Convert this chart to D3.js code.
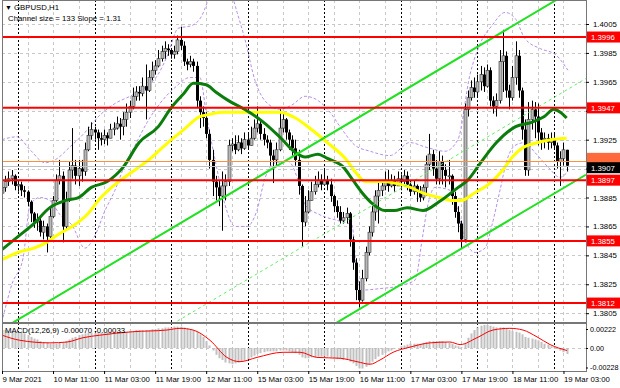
<!DOCTYPE html>
<html>
<head>
<meta charset="utf-8">
<script src="https://cdn.jsdelivr.net/npm/d3@7"></script>
<style>
html, body { margin: 0; padding: 0; background: #fff; }
svg { display: block; font-family: "Liberation Sans", Arial, sans-serif; }
</style>
</head>
<body>
<div class="artboard"></div>
<script>
// GBPUSD H1, 9 Mar 19:00 .. 19 Mar 04:00 (178 bars), open of a bar = close of the previous one
var firstOpen = 1.3888;
var closes = [
  1.3892, 1.3896, 1.3898, 1.3900, 1.3893, 1.3894, 1.3890, 1.3889, 1.3882, 1.3874,
  1.3868, 1.3869, 1.3861, 1.3865, 1.3858, 1.3872, 1.3883, 1.3897, 1.3900, 1.3865,
  1.3883, 1.3904, 1.3907, 1.3900, 1.3905, 1.3903, 1.3918, 1.3928, 1.3932, 1.3930,
  1.3926, 1.3925, 1.3928, 1.3926, 1.3932, 1.3933, 1.3936, 1.3934, 1.3939, 1.3944,
  1.3948, 1.3955, 1.3958, 1.3957, 1.3962, 1.3959, 1.3968, 1.3973, 1.3976, 1.3981,
  1.3986, 1.3988, 1.3987, 1.3984, 1.3986, 1.3994, 1.3990, 1.3979, 1.3977, 1.3979,
  1.3976, 1.3952, 1.3944, 1.3940, 1.3929, 1.3911, 1.3896, 1.3892, 1.3886, 1.3893,
  1.3896, 1.3921, 1.3922, 1.3918, 1.3923, 1.3919, 1.3925, 1.3921, 1.3926, 1.3933,
  1.3936, 1.3929, 1.3925, 1.3923, 1.3914, 1.3911, 1.3918, 1.3933, 1.3939, 1.3930,
  1.3925, 1.3919, 1.3911, 1.3893, 1.3868, 1.3875, 1.3883, 1.3889, 1.3894, 1.3897,
  1.3894, 1.3897, 1.3894, 1.3886, 1.3879, 1.3875, 1.3869, 1.3871, 1.3874, 1.3856,
  1.3840, 1.3821, 1.3814, 1.3829, 1.3847, 1.3861, 1.3875, 1.3886, 1.3890, 1.3893,
  1.3896, 1.3893, 1.3897, 1.3893, 1.3898, 1.3896, 1.3900, 1.3894, 1.3889, 1.3893,
  1.3889, 1.3885, 1.3892, 1.3908, 1.3915, 1.3905, 1.3898, 1.3910, 1.3904, 1.3900,
  1.3900, 1.3886, 1.3875, 1.3867, 1.3856, 1.3946, 1.3954, 1.3961, 1.3958, 1.3965,
  1.3970, 1.3962, 1.3973, 1.3952, 1.3948, 1.3952, 1.3979, 1.3983, 1.3959, 1.3954,
  1.3968, 1.3983, 1.3959, 1.3932, 1.3904, 1.3939, 1.3946, 1.3941, 1.3930, 1.3925,
  1.3926, 1.3923, 1.3925, 1.3921, 1.3910, 1.3912, 1.3918, 1.3907
];
var highs = [
  1.3898, 1.3900, 1.3903, 1.3904, 1.3901, 1.3897, 1.3896, 1.3893, 1.3890, 1.3883,
  1.3875, 1.3874, 1.3871, 1.3869, 1.3867, 1.3878, 1.3886, 1.3901, 1.3911, 1.3903,
  1.3889, 1.3910, 1.3933, 1.3911, 1.3911, 1.3911, 1.3923, 1.3934, 1.3937, 1.3934,
  1.3932, 1.3930, 1.3932, 1.3930, 1.3936, 1.3937, 1.3941, 1.3940, 1.3944, 1.3950,
  1.3952, 1.3961, 1.3962, 1.3962, 1.3968, 1.3977, 1.3973, 1.3979, 1.3980, 1.3987,
  1.3990, 1.3993, 1.3991, 1.3988, 1.3990, 1.3997, 1.4003, 1.3993, 1.3981, 1.3983,
  1.3981, 1.3979, 1.3955, 1.3948, 1.3944, 1.3932, 1.3918, 1.3900, 1.3897, 1.3903,
  1.3901, 1.3925, 1.3926, 1.3928, 1.3928, 1.3926, 1.3930, 1.3929, 1.3934, 1.3939,
  1.3948, 1.3939, 1.3933, 1.3928, 1.3925, 1.3918, 1.3923, 1.3946, 1.3944, 1.3940,
  1.3932, 1.3928, 1.3925, 1.3918, 1.3894, 1.3886, 1.3890, 1.3896, 1.3900, 1.3903,
  1.3901, 1.3905, 1.3900, 1.3898, 1.3887, 1.3883, 1.3879, 1.3875, 1.3878, 1.3875,
  1.3858, 1.3843, 1.3827, 1.3835, 1.3851, 1.3865, 1.3879, 1.3890, 1.3896, 1.3897,
  1.3903, 1.3904, 1.3901, 1.3900, 1.3903, 1.3901, 1.3904, 1.3903, 1.3897, 1.3897,
  1.3894, 1.3893, 1.3894, 1.3914, 1.3929, 1.3918, 1.3911, 1.3917, 1.3914, 1.3908,
  1.3911, 1.3901, 1.3889, 1.3879, 1.3869, 1.3950, 1.3959, 1.3966, 1.3968, 1.3970,
  1.3976, 1.3975, 1.3977, 1.3975, 1.3955, 1.3957, 1.3987, 1.4001, 1.3986, 1.3963,
  1.3976, 1.3993, 1.3987, 1.3961, 1.3939, 1.3951, 1.3952, 1.3951, 1.3950, 1.3933,
  1.3930, 1.3929, 1.3930, 1.3929, 1.3923, 1.3917, 1.3923, 1.3917
];
var lows = [
  1.3885, 1.3889, 1.3893, 1.3894, 1.3890, 1.3889, 1.3886, 1.3885, 1.3879, 1.3868,
  1.3864, 1.3862, 1.3858, 1.3856, 1.3847, 1.3857, 1.3871, 1.3882, 1.3894, 1.3854,
  1.3862, 1.3882, 1.3898, 1.3894, 1.3893, 1.3896, 1.3900, 1.3917, 1.3925, 1.3925,
  1.3918, 1.3921, 1.3922, 1.3921, 1.3926, 1.3928, 1.3932, 1.3925, 1.3928, 1.3934,
  1.3940, 1.3946, 1.3952, 1.3952, 1.3955, 1.3939, 1.3958, 1.3966, 1.3970, 1.3975,
  1.3979, 1.3981, 1.3983, 1.3981, 1.3981, 1.3984, 1.3987, 1.3976, 1.3973, 1.3975,
  1.3972, 1.3947, 1.3933, 1.3934, 1.3926, 1.3905, 1.3886, 1.3883, 1.3879, 1.3862,
  1.3883, 1.3893, 1.3917, 1.3915, 1.3917, 1.3915, 1.3918, 1.3918, 1.3921, 1.3925,
  1.3930, 1.3925, 1.3921, 1.3919, 1.3907, 1.3895, 1.3907, 1.3917, 1.3930, 1.3925,
  1.3918, 1.3914, 1.3907, 1.3887, 1.3851, 1.3865, 1.3874, 1.3883, 1.3887, 1.3892,
  1.3890, 1.3893, 1.3890, 1.3882, 1.3875, 1.3871, 1.3867, 1.3867, 1.3867, 1.3851,
  1.3835, 1.3814, 1.3809, 1.3813, 1.3827, 1.3845, 1.3858, 1.3869, 1.3867, 1.3886,
  1.3890, 1.3889, 1.3892, 1.3889, 1.3893, 1.3890, 1.3894, 1.3890, 1.3886, 1.3887,
  1.3882, 1.3882, 1.3883, 1.3886, 1.3904, 1.3900, 1.3894, 1.3894, 1.3894, 1.3892,
  1.3894, 1.3880, 1.3871, 1.3861, 1.3850, 1.3854, 1.3941, 1.3952, 1.3954, 1.3955,
  1.3959, 1.3958, 1.3961, 1.3948, 1.3943, 1.3941, 1.3950, 1.3958, 1.3954, 1.3946,
  1.3952, 1.3963, 1.3954, 1.3925, 1.3900, 1.3900, 1.3932, 1.3926, 1.3921, 1.3918,
  1.3919, 1.3918, 1.3919, 1.3918, 1.3905, 1.3893, 1.3907, 1.3903
];

// moving averages: [bar, price]
var greenMa = [
  [0, 1.3849], [5, 1.3858], [10, 1.3867], [15, 1.3878], [20, 1.3883], [24, 1.3885],
  [28, 1.3892], [33, 1.3896], [38, 1.3906], [43, 1.3923], [49, 1.3934], [53, 1.3947],
  [57, 1.3957], [60, 1.3964], [64, 1.3963], [67, 1.3958], [71, 1.3952], [76, 1.3946],
  [82, 1.3937], [87, 1.3927], [92, 1.3916], [95, 1.3913], [99, 1.3915], [102, 1.3912],
  [107, 1.3906], [110, 1.3897], [113, 1.3888], [116, 1.3881], [120, 1.3876], [123, 1.3876],
  [127, 1.3878], [132, 1.3876], [137, 1.3882], [143, 1.3892], [146, 1.3897], [150, 1.3909],
  [155, 1.3923], [161, 1.3934], [166, 1.3937], [170, 1.3941], [173, 1.3946], [175, 1.3944],
  [177, 1.3940]
];
var yellowMa = [
  [0, 1.3842], [5, 1.3847], [10, 1.3850], [14, 1.3854], [18, 1.3860], [22, 1.3865],
  [27, 1.3874], [31, 1.3885], [36, 1.3895], [41, 1.3903], [46, 1.3911], [52, 1.3923],
  [57, 1.3932], [62, 1.3941], [64, 1.3942], [69, 1.3944], [74, 1.3944], [82, 1.3944],
  [87, 1.3944], [92, 1.3940], [97, 1.3932], [102, 1.3923], [108, 1.3911], [111, 1.3902],
  [114, 1.3896], [119, 1.3896], [123, 1.3895], [128, 1.3892], [132, 1.3888], [137, 1.3885],
  [141, 1.3883], [144, 1.3883], [148, 1.3888], [153, 1.3895], [157, 1.3904], [160, 1.3913],
  [163, 1.3919], [168, 1.3923], [172, 1.3925], [177, 1.3926]
];
var bandUpper = [
  [0, 1.3925], [4.7, 1.3927], [8.8, 1.3918], [13.5, 1.3909], [16.6, 1.3911], [21.3, 1.3920],
  [26, 1.3930], [30.7, 1.3942], [35.4, 1.3950], [40.1, 1.3955], [44.8, 1.3961], [48.9, 1.3970],
  [52, 1.3984], [55.2, 1.4002], [59.6, 1.4004], [62.7, 1.4011], [65.2, 1.4025], [68.3, 1.4039],
  [71.5, 1.4029], [73.7, 1.4013], [76.2, 1.3994], [79.3, 1.3966], [82.4, 1.3952], [87.1, 1.3946],
  [90.9, 1.3949], [95, 1.3955], [99.1, 1.3952], [102.8, 1.3944], [106.6, 1.3932], [110.7, 1.3921],
  [115.4, 1.3917], [121.6, 1.3914], [127.9, 1.3923], [132.6, 1.3920], [138.9, 1.3917], [142.9, 1.3925],
  [146.7, 1.3970], [149.8, 1.3991], [153.6, 1.4004], [157.7, 1.4013], [160.8, 1.4009], [163.9, 1.3995],
  [168.7, 1.3988], [173.4, 1.3984], [177.4, 1.3973]
];
var bandLower = [
  [0.3, 1.3802], [3.1, 1.3825], [6.6, 1.3843], [8.8, 1.3880], [11.9, 1.3885], [15, 1.3883],
  [18.2, 1.3873], [21.9, 1.3866], [26, 1.3850], [29.2, 1.3859], [32.3, 1.3876], [35.4, 1.3890],
  [38.6, 1.3908], [41.7, 1.3921], [45.5, 1.3937], [49.5, 1.3950], [54.2, 1.3961], [58.9, 1.3968],
  [62, 1.3968], [64.3, 1.3939], [66.8, 1.3911], [69.9, 1.3880], [73, 1.3865], [76.8, 1.3865],
  [79.9, 1.3876], [82.4, 1.3898], [85.6, 1.3909], [89.7, 1.3910], [92.8, 1.3897], [95, 1.3880],
  [99.7, 1.3873], [105.3, 1.3869], [109.7, 1.3866], [111.3, 1.3831], [112.9, 1.3821], [118.5, 1.3822],
  [124.8, 1.3824], [129.5, 1.3828], [131.7, 1.3856], [133.5, 1.3880], [135.7, 1.3892], [140.4, 1.3890],
  [142.9, 1.3876], [145.1, 1.3856], [148.3, 1.3847], [151.4, 1.3850], [153.6, 1.3866], [156.1, 1.3890],
  [158.3, 1.3911], [160.8, 1.3921], [163.9, 1.3923], [167.1, 1.3916], [171.2, 1.3906], [174.9, 1.3899],
  [177.4, 1.3903]
];

// regression channel (133 pips wide, 1.31 pips per bar)
var channelStart = 1.3794;
var channelSlope = 0.000131;
var channelWidth = 0.0133;

var levels = [1.3996, 1.3947, 1.3897, 1.3855, 1.3812];
var markLevel = 1.3910;
var bidPrice = 1.3907;
var priceTicks = [1.4005, 1.3985, 1.3965, 1.3945, 1.3925, 1.3905, 1.3885, 1.3865, 1.3845, 1.3825, 1.3805];

// MACD(12,26,9)
var macdMain = [
  0.0021, 0.0021, 0.0020, 0.0020, 0.0019, 0.0019, 0.0018, 0.0017, 0.0015, 0.0013,
  0.0011, 0.0010, 0.0008, 0.0007, 0.0006, 0.0005, 0.0005, 0.0005, 0.0006, 0.0006,
  0.0008, 0.0010, 0.0012, 0.0013, 0.0015, 0.0016, 0.0017, 0.0018, 0.0018, 0.0018,
  0.0018, 0.0018, 0.0018, 0.0019, 0.0019, 0.0019, 0.0019, 0.0019, 0.0019, 0.0019,
  0.0020, 0.0020, 0.0021, 0.0021, 0.0021, 0.0021, 0.0021, 0.0022, 0.0022, 0.0023,
  0.0023, 0.0024, 0.0024, 0.0024, 0.0025, 0.0025, 0.0025, 0.0024, 0.0023, 0.0022,
  0.0021, 0.0019, 0.0016, 0.0013, 0.0008, 0.0003, -0.0003, -0.0008, -0.0012, -0.0014,
  -0.0017, -0.0018, -0.0019, -0.0018, -0.0017, -0.0016, -0.0015, -0.0013, -0.0011, -0.0009,
  -0.0007, -0.0006, -0.0005, -0.0004, -0.0004, -0.0004, -0.0004, -0.0003, -0.0003, -0.0003,
  -0.0004, -0.0005, -0.0006, -0.0008, -0.0011, -0.0012, -0.0012, -0.0011, -0.0011, -0.0010,
  -0.0010, -0.0010, -0.0010, -0.0011, -0.0012, -0.0013, -0.0013, -0.0014, -0.0014, -0.0016,
  -0.0018, -0.0021, -0.0024, -0.0024, -0.0022, -0.0019, -0.0016, -0.0013, -0.0010, -0.0008,
  -0.0006, -0.0004, -0.0003, -0.0001, 0.0000, 0.0002, 0.0003, 0.0004, 0.0005, 0.0005,
  0.0005, 0.0005, 0.0006, 0.0007, 0.0008, 0.0008, 0.0008, 0.0008, 0.0008, 0.0007,
  0.0006, 0.0005, 0.0003, 0.0002, 0.0001, 0.0006, 0.0012, 0.0017, 0.0021, 0.0024,
  0.0026, 0.0027, 0.0027, 0.0026, 0.0025, 0.0024, 0.0024, 0.0024, 0.0023, 0.0021,
  0.0020, 0.0019, 0.0018, 0.0016, 0.0013, 0.0012, 0.0011, 0.0010, 0.0009, 0.0007,
  0.0005, 0.0004, 0.0002, 0.0001, -0.0001, -0.0003, -0.0005, -0.0007
];
var macdSignal = [
  [0, 0.0015], [5.6, 0.0009], [15, 0.0006], [20.4, 0.0007], [25.4, 0.0012], [30.7, 0.0015],
  [41, 0.0019], [51.7, 0.0021], [55.8, 0.0023], [59.9, 0.0021], [65.2, 0.0009], [70.5, -0.0011],
  [74.6, -0.0016], [79.9, -0.0011], [88.1, -0.0005], [93.4, -0.0005], [98.7, -0.0011], [106, -0.0012],
  [111.3, -0.0016], [115.4, -0.0019], [118.5, -0.0014], [122.6, -0.0005], [127.9, 0.0001], [134.2, 0.0006],
  [140.4, 0.0007], [143.6, 0.0004], [148.9, 0.0012], [153.9, 0.0021], [159.2, 0.0023], [163.3, 0.0021],
  [167.7, 0.0013], [171.8, 0.0004], [177.1, -0.0003]
];
var macdTicks = [0.00222, 0, -0.00228];
var macdTickLabels = ['0.00222', '0.00', '-0.00228'];

var timeBars = [0, 16, 32, 48, 64, 80, 96, 112, 128, 144, 160, 176];
var timeLabels = ['9 Mar 2021', '10 Mar 11:00', '11 Mar 03:00', '11 Mar 19:00', '12 Mar 11:00',
  '15 Mar 03:00', '15 Mar 19:00', '16 Mar 11:00', '17 Mar 03:00', '17 Mar 19:00', '18 Mar 11:00', '19 Mar 03:00'];
var daySeparators = [5, 29, 53, 77, 101, 125, 149, 173];
var gridBars = [8, 16, 24, 32, 40, 48, 56, 64, 72, 80, 88, 96, 104, 112, 120, 128, 136, 144, 152, 160, 168, 176];

var W = 620, H = 388;
var left = 2, right = 586, mainTop = 0, mainBottom = 322, macdTop = 323, macdBottom = 371;

var x = d3.scaleLinear().domain([0, 183]).range([2, 585.8]);
var y = d3.scaleLinear().domain([1.37989, 1.40216]).range([mainBottom, mainTop]);
var yM = d3.scaleLinear().domain([-0.00228, 0.00222]).range([367.5, 329]);

var svg = d3.select('.artboard').append('svg')
  .attr('width', W)
  .attr('height', H);

svg.append('rect').attr('width', W).attr('height', H).attr('fill', '#fff');

var defs = svg.append('defs');
defs.append('clipPath').attr('id', 'clip-main')
  .append('rect').attr('x', left).attr('y', mainTop).attr('width', right - left).attr('height', mainBottom - mainTop);
defs.append('clipPath').attr('id', 'clip-macd')
  .append('rect').attr('x', left).attr('y', macdTop).attr('width', right - left).attr('height', macdBottom - macdTop);

var main = svg.append('g').attr('clip-path', 'url(#clip-main)');
var macd = svg.append('g').attr('clip-path', 'url(#clip-macd)');

// grid
main.selectAll('line.hgrid').data(priceTicks).enter().append('line')
  .attr('x1', left).attr('x2', right)
  .attr('y1', function(d) { return Math.round(y(d)) + 0.5; })
  .attr('y2', function(d) { return Math.round(y(d)) + 0.5; })
  .attr('stroke', '#c8c8c8').attr('stroke-dasharray', '3,3');

[main, macd].forEach(function(g, idx) {
  var y1 = idx === 0 ? mainTop : macdTop;
  var y2 = idx === 0 ? mainBottom : macdBottom;
  g.selectAll('line.vgrid').data(gridBars).enter().append('line')
    .attr('x1', function(d) { return Math.round(x(d)) + 0.5; })
    .attr('x2', function(d) { return Math.round(x(d)) + 0.5; })
    .attr('y1', y1).attr('y2', y2)
    .attr('stroke', '#c8c8c8').attr('stroke-dasharray', '3,3');
  g.selectAll('line.sep').data(daySeparators).enter().append('line')
    .attr('x1', function(d) { return Math.round(x(d)) + 0.5; })
    .attr('x2', function(d) { return Math.round(x(d)) + 0.5; })
    .attr('y1', y1).attr('y2', y2)
    .attr('stroke', '#000').attr('stroke-dasharray', '2,2');
});

macd.append('line')
  .attr('x1', left).attr('x2', right)
  .attr('y1', Math.round(yM(0)) + 0.5).attr('y2', Math.round(yM(0)) + 0.5)
  .attr('stroke', '#c8c8c8').attr('stroke-dasharray', '3,3');

// bollinger style bands
var ptLine = d3.line()
  .x(function(d) { return x(d[0]); })
  .y(function(d) { return y(d[1]); })
  .curve(d3.curveMonotoneX);

[bandUpper, bandLower].forEach(function(band) {
  main.append('path').datum(band)
    .attr('d', ptLine)
    .attr('fill', 'none')
    .attr('stroke', '#b98ee8')
    .attr('stroke-width', 1)
    .attr('stroke-dasharray', '3,2');
});

// candles
var candles = closes.map(function(c, i) {
  var o = i === 0 ? firstOpen : closes[i - 1];
  return { i: i, o: o, c: c, h: Math.max(highs[i], o, c), l: Math.min(lows[i], o, c) };
});

var cg = main.append('g');
cg.selectAll('line.wick').data(candles).enter().append('line')
  .attr('x1', function(d) { return Math.round(x(d.i)) + 0.5; })
  .attr('x2', function(d) { return Math.round(x(d.i)) + 0.5; })
  .attr('y1', function(d) { return y(d.h); })
  .attr('y2', function(d) { return y(d.l); })
  .attr('stroke', '#000').attr('stroke-width', 1);

cg.selectAll('rect.body').data(candles).enter().append('rect')
  .attr('x', function(d) { return Math.round(x(d.i)) - 1; })
  .attr('width', 3)
  .attr('y', function(d) { return y(Math.max(d.o, d.c)); })
  .attr('height', function(d) { return Math.max(1, Math.abs(y(d.o) - y(d.c))); })
  .attr('fill', function(d) { return d.c >= d.o ? '#b8b8b8' : '#000'; })
  .attr('stroke', function(d) { return d.c >= d.o ? '#333' : 'none'; })
  .attr('stroke-width', 0.6);

// moving averages
main.append('path').datum(yellowMa)
  .attr('d', ptLine).attr('fill', 'none')
  .attr('stroke', '#ffff00').attr('stroke-width', 3);
main.append('path').datum(greenMa)
  .attr('d', ptLine).attr('fill', 'none')
  .attr('stroke', '#0b7d0b').attr('stroke-width', 3);

// channel
var chanEnd = 183;
var chanLine = function(offset) {
  return [[0, channelStart - offset], [chanEnd, channelStart - offset + chanEnd * channelSlope]];
};
var straight = d3.line().x(function(d) { return x(d[0]); }).y(function(d) { return y(d[1]); });

main.append('path').datum(chanLine(0))
  .attr('d', straight).attr('stroke', '#22e022').attr('stroke-width', 2).attr('fill', 'none');
main.append('path').datum(chanLine(channelWidth))
  .attr('d', straight).attr('stroke', '#22e022').attr('stroke-width', 2).attr('fill', 'none');
main.append('path').datum(chanLine(channelWidth / 2))
  .attr('d', straight).attr('stroke', '#66ee66').attr('stroke-width', 1)
  .attr('stroke-dasharray', '3,3').attr('fill', 'none');

// horizontal levels
main.append('line')
  .attr('x1', left).attr('x2', right)
  .attr('y1', Math.round(y(bidPrice)) + 0.5).attr('y2', Math.round(y(bidPrice)) + 0.5)
  .attr('stroke', '#c0c0c0');
main.append('line')
  .attr('x1', left).attr('x2', right)
  .attr('y1', Math.round(y(markLevel)) + 0.5).attr('y2', Math.round(y(markLevel)) + 0.5)
  .attr('stroke', '#ff9040');
main.selectAll('line.level').data(levels).enter().append('line')
  .attr('x1', left).attr('x2', right)
  .attr('y1', function(d) { return y(d); })
  .attr('y2', function(d) { return y(d); })
  .attr('stroke', '#ff0000').attr('stroke-width', 2);

// MACD
macd.selectAll('rect.hist').data(macdMain).enter().append('rect')
  .attr('x', function(d, i) { return Math.round(x(i)) - 0.5; })
  .attr('width', 2)
  .attr('y', function(d) { return Math.min(yM(d), yM(0)); })
  .attr('height', function(d) { return Math.abs(yM(d) - yM(0)); })
  .attr('fill', '#c0c0c0');

macd.append('path').datum(macdSignal)
  .attr('d', d3.line()
    .x(function(d) { return x(d[0]); })
    .y(function(d) { return yM(d[1]); })
    .curve(d3.curveMonotoneX))
  .attr('fill', 'none').attr('stroke', '#ff0000').attr('stroke-width', 1);

// frames
svg.append('rect')
  .attr('x', left + 0.5).attr('y', 0.5).attr('width', right - left).attr('height', mainBottom)
  .attr('fill', 'none').attr('stroke', '#777');
svg.append('rect')
  .attr('x', left + 0.5).attr('y', macdTop + 0.5).attr('width', right - left).attr('height', macdBottom - macdTop)
  .attr('fill', 'none').attr('stroke', '#777');

// price axis (labels under the level boxes stay hidden, as on the terminal)
var fs = 7.8;
var covered = function(v) {
  return levels.concat([bidPrice]).some(function(l) { return Math.abs(y(l) - y(v)) < 8; });
};
var yAxis = svg.append('g')
  .attr('transform', 'translate(' + right + ',0)')
  .call(d3.axisRight(y).tickValues(priceTicks).tickSize(3).tickPadding(4)
    .tickFormat(function(d) { return covered(d) ? '' : d3.format('.4f')(d); }));
yAxis.select('.domain').remove();
yAxis.selectAll('text').attr('font-size', fs).attr('fill', '#000');

var mAxis = svg.append('g')
  .attr('transform', 'translate(' + right + ',0)')
  .call(d3.axisRight(yM).tickValues(macdTicks).tickSize(2).tickPadding(2)
    .tickFormat(function(d, i) { return macdTickLabels[i]; }));
mAxis.select('.domain').remove();
mAxis.selectAll('text').attr('font-size', 7.2).attr('fill', '#000');

// level price boxes
var boxes = levels.map(function(v) { return { v: v, fill: '#ff0000', label: true }; })
  .concat([{ v: markLevel, fill: '#ff6a3a', dy: -3, label: false }, { v: bidPrice, fill: '#000', dy: 2, label: true }]);
var bg = svg.append('g');
bg.selectAll('rect').data(boxes).enter().append('rect')
  .attr('x', right + 1).attr('width', W - right - 1)
  .attr('y', function(d) { return y(d.v) - 5.5 + (d.dy || 0); })
  .attr('height', 11)
  .attr('fill', function(d) { return d.fill; });
bg.selectAll('text').data(boxes.filter(function(d) { return d.label; })).enter().append('text')
  .attr('x', right + 5)
  .attr('y', function(d) { return y(d.v) + 3 + (d.dy || 0); })
  .attr('font-size', fs).attr('fill', '#fff')
  .text(function(d) { return d3.format('.4f')(d.v); });

// time axis
var xAxis = svg.append('g')
  .attr('transform', 'translate(0,' + macdBottom + ')')
  .call(d3.axisBottom(x).tickValues(timeBars).tickSize(3).tickPadding(2)
    .tickFormat(function(d, i) { return timeLabels[i]; }));
xAxis.select('.domain').remove();
xAxis.selectAll('text').attr('font-size', fs).attr('fill', '#000')
  .attr('text-anchor', 'start').attr('dx', 0);

// titles
svg.append('text').attr('x', 5).attr('y', 10).attr('font-size', 7).text('\u25BC');
svg.append('text').attr('x', 14).attr('y', 10).attr('font-size', fs).text('GBPUSD,H1');
svg.append('text').attr('x', 8).attr('y', 21).attr('font-size', fs).text('Channel size = 133 Slope = 1.31');
svg.append('text').attr('x', 5).attr('y', 333).attr('font-size', fs).text('MACD(12,26,9) -0.00070 -0.00033');
</script>
</body>
</html>
